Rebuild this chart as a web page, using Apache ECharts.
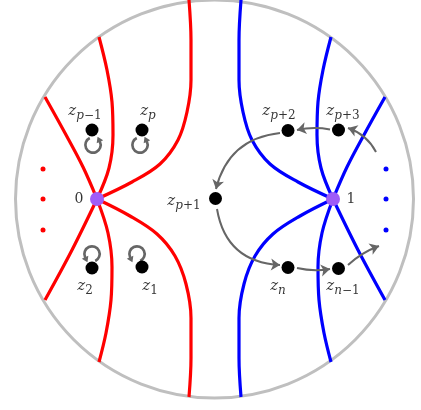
<!DOCTYPE html>
<html><head><meta charset="utf-8">
<script src="https://cdn.jsdelivr.net/npm/echarts@6/dist/echarts.min.js"></script>
<style>html,body{margin:0;padding:0;background:#fff}#c{width:421px;height:410px}</style>
</head><body><div id="c"></div>
<script>
// ---- data (diagram coordinates, y grows downward) ----
const discCenter = [214.5, 199];
const redCurve1 = [[45,97],[65,133],[83,167],[97,199]];
const redCurve2 = [[99,37],[107,70],[112,102],[113,135],[109,168],[97,199]];
const redCurve3 = [[189,0],[191,40],[191,80],[187,112],[178,140],[160,164],[132,182],[97,199]];
const redCurve4 = [[97,199],[72,250],[45,300]];
const redCurve5 = [[97,199],[108,233],[112,267],[111,300],[106,333],[99,362]];
const redCurve6 = [[97,199],[130,216],[157,234],[175,256],[186,284],[191,318],[191,358],[189,397]];
const blueCurve1 = [[385,97],[365,133],[347,167],[333,199]];
const blueCurve2 = [[331,37],[323,70],[318,102],[317,135],[321,168],[333,199]];
const blueCurve3 = [[241,0],[239,40],[239,80],[243,112],[252,140],[270,164],[298,182],[333,199]];
const blueCurve4 = [[333,199],[358,250],[385,300]];
const blueCurve5 = [[333,199],[322,233],[318,267],[319,300],[324,333],[331,362]];
const blueCurve6 = [[333,199],[300,216],[273,234],[255,256],[244,284],[239,318],[239,358],[241,397]];
const redDots = [[43,169],[43,199],[43,230]];
const blueDots = [[386,169],[386,199],[386,230]];
const marked = [[97,199],[333,199]];
const points = [[92,130],[142,130],[92,268],[142,267],[215.5,198.5],[288,130.5],[338.5,130],[288,267.5],[338.5,268.5]];
const loopsBelow = [[93,145],[140,145]];
const loopsAbove = [[92,254],[137,254]];
const arrows = [
  [[376,152],[348,128],-0.2],
  [[330,129.5],[297,130],-0.1],
  [[280,133],[216,189],-0.35],
  [[217,209],[280,265],-0.4],
  [[297,268],[330,269],-0.1],
  [[348,265],[379,246],0.1]
];
const labelTexts = ['0','1','{z|z}{i|p}{r|−1}','{z|z}{i|p}','{z|z}{r|2}','{z|z}{r|1}','{z|z}{i|p}{r|+1}','{z|z}{i|p}{r|+2}','{z|z}{i|p}{r|+3}','{z|z}{i|n}','{z|z}{i|n}{r|−1}'];
const labelPos = [[79,199],[351,199],[85,111],[148,111],[85,286],[150,286],[184,201],[279,111],[343,111],[278,286],[343,286]];

// ---- chart ----
const chart = echarts.init(document.getElementById('c'));
const curveSeries = (pts, color) => ({type:'line', data: pts, smooth: 0.35, symbol:'none', silent:true,
  lineStyle:{color: color, width: 3.2}, z: 2});
const loopPath = 'path://M0 0h0.01v0.01zM24 24h-0.01v-0.01zM8.62 4.75A8 8 0 1 0 19.25 8.62L17.08 9.63A5.6 5.6 0 1 1 9.63 6.92Z M21.06 7.78L15.26 10.48L16.05 4.6Z';
const serif = '"DejaVu Serif", "Liberation Serif", serif';
const rich = {
  z:{fontFamily: serif, fontStyle:'italic', fontSize: 15, color:'#000', lineHeight: 18},
  i:{fontFamily: serif, fontStyle:'italic', fontSize: 12, color:'#000', padding:[9,0,0,0], lineHeight: 18},
  r:{fontFamily: serif, fontSize: 12, color:'#000', padding:[9,0,0,0], lineHeight: 18}
};
const option = {
  animation:false,
  grid:{left:0,right:0,top:0,bottom:0},
  xAxis:{type:'value', min:0, max:421, show:false},
  yAxis:{type:'value', min:0, max:410, inverse:true, show:false},
  series:[
    {type:'scatter', data:[discCenter], symbol:'circle', symbolSize: 398, silent:true, z:1,
      itemStyle:{color:'rgba(0,0,0,0)', borderColor:'#bfbfbf', borderWidth:3, opacity:1}},
    curveSeries(redCurve1,'#ff0000'), curveSeries(redCurve2,'#ff0000'), curveSeries(redCurve3,'#ff0000'),
    curveSeries(redCurve4,'#ff0000'), curveSeries(redCurve5,'#ff0000'), curveSeries(redCurve6,'#ff0000'),
    curveSeries(blueCurve1,'#0000ff'), curveSeries(blueCurve2,'#0000ff'), curveSeries(blueCurve3,'#0000ff'),
    curveSeries(blueCurve4,'#0000ff'), curveSeries(blueCurve5,'#0000ff'), curveSeries(blueCurve6,'#0000ff'),
    {type:'lines', coordinateSystem:'cartesian2d', z:3, silent:true,
      symbol:['none','arrow'], symbolSize: 9,
      data: arrows.map(a => ({coords:[a[0],a[1]], lineStyle:{curveness:a[2]}})),
      lineStyle:{color:'#666', width:2, opacity:1}},
    {type:'scatter', data: loopsBelow, symbol: loopPath, symbolSize: 27, symbolKeepAspect:true, z:3, silent:true,
      itemStyle:{color:'#666', opacity:1}},
    {type:'scatter', data: loopsAbove, symbol: loopPath, symbolSize: 27, symbolKeepAspect:true, symbolRotate:180, z:3, silent:true,
      itemStyle:{color:'#666', opacity:1}},
    {type:'scatter', data: redDots, symbolSize: 5, itemStyle:{color:'#ff0000', opacity:1}, z:4, silent:true},
    {type:'scatter', data: blueDots, symbolSize: 5, itemStyle:{color:'#0000ff', opacity:1}, z:4, silent:true},
    {type:'scatter', data: points, symbolSize: 13, itemStyle:{color:'#000', opacity:1}, z:5, silent:true},
    {type:'scatter', data: marked, symbolSize: 14, itemStyle:{color:'#9f5cf7', opacity:1}, z:5, silent:true},
    {type:'scatter', data: labelPos.map((p,k)=>({value:p, name: labelTexts[k]})), symbolSize: 0, z:6, silent:true,
      label:{show:true, position:'inside', formatter: p => p.name,
        fontFamily: serif, fontSize: 14, color:'#000', rich: rich}}
  ]
};
chart.setOption(option);
</script></body></html>
